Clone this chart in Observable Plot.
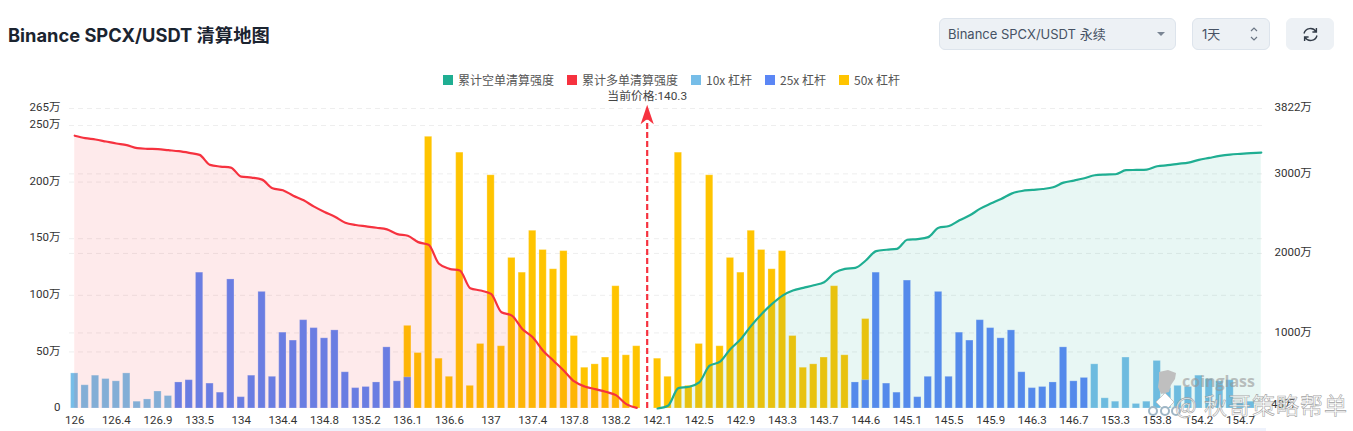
<!DOCTYPE html>
<html><head><meta charset="utf-8">
<script src="https://cdn.jsdelivr.net/npm/d3@7"></script>
<script src="https://cdn.jsdelivr.net/npm/@observablehq/plot@0.6"></script>
<style>
html,body{margin:0;padding:0;background:#fff;overflow:hidden}
body{width:1353px;height:431px;position:relative;font-family:"Noto Sans","Noto Sans CJK SC",sans-serif}
.title{position:absolute;left:8px;top:21px;font:700 18.3px/28px "Inter","Noto Sans CJK SC",sans-serif;color:#1b2430;white-space:nowrap}
.ctl{position:absolute;top:18px;height:32px;box-sizing:border-box;background:#edf1f5;border:1px solid #dde4ec;border-radius:6px;font:13px/30px "Inter","Noto Sans CJK SC",sans-serif;color:#465264;padding-left:8px;white-space:nowrap}
.legend{position:absolute;top:72px;left:0;height:16px;font:12px/16px "Noto Sans CJK SC",sans-serif;color:#555}
.legend span{position:absolute;top:0;white-space:nowrap}
.legend i{position:absolute;top:3px;width:10px;height:10px}
#chart{position:absolute;left:0;top:88px}
.strip{position:absolute;left:70px;top:428px;width:1196px;height:3px;background:#eef2fc}
.wm0{position:absolute;left:1146px;top:368px}
.wm1{position:absolute;left:1182px;top:371px;font:700 16px/20px "Open Sans",sans-serif;color:rgba(150,150,150,.6)}
.wm2{position:absolute;left:1175px;top:390px;font:23px/28px "Noto Sans CJK SC",sans-serif;color:rgba(255,255,255,.8);-webkit-text-stroke:.6px rgba(130,130,130,.75);letter-spacing:1px;white-space:nowrap}
</style></head><body>
<div class="title">Binance SPCX/USDT 清算地图</div>
<div class="ctl" style="left:939px;width:237px">Binance SPCX/USDT 永续<svg style="position:absolute;left:217px;top:13px" width="8" height="5"><path d="M0 0H8L4 4Z" fill="#7a8594"/></svg></div>
<div class="ctl" style="left:1192px;width:78px;padding-left:9px">1天<svg style="position:absolute;left:56px;top:7px" width="10" height="16"><path d="M2 5L5 2L8 5M2 11L5 14L8 11" fill="none" stroke="#6b7685" stroke-width="1.2"/></svg></div>
<div class="ctl" style="left:1286px;width:48px;border-color:#edf1f5"><svg style="position:absolute;left:15px;top:7px" width="17" height="17" viewBox="0 0 17 17"><path d="M2 7.5A6.6 6.6 0 0 1 14 5.6M15 9.5A6.6 6.6 0 0 1 3 11.4M14.4 2V6H10.4M2.6 15V11H6.6" fill="none" stroke="#333c48" stroke-width="1.4"/></svg></div>
<div class="legend" id="legend"></div>
<div id="chart"></div>
<div class="strip"></div>
<svg class="wm0" width="36" height="58" viewBox="0 0 36 58">
<path d="M13 4L22 2L30 5L29 11L25 17L23 24L15 26L12 19L13 12Z" fill="#bfbfbf"/>
<path d="M10 34L19 25L28 34L19 43Z" fill="#fff" stroke="#c9c9c9"/>
<circle cx="7" cy="43" r="4" fill="#fff" stroke="#9fb6c6" stroke-width="2"/><circle cx="19" cy="43" r="4" fill="#fff" stroke="#9fb6c6" stroke-width="2"/><circle cx="30" cy="43" r="4" fill="#fff" stroke="#9fb6c6" stroke-width="2"/>
</svg>
<div class="wm1">coinglass</div>
<div class="wm2">@ 秋哥策略帮单</div>
<script>
const tickLabels=["126","126.4","126.9","133.5","134","134.4","134.8","135.2","136.1","136.6","137","137.4","137.8","138.2","142.1","142.5","142.9","143.3","143.7","144.6","145.1","145.5","145.9","146.3","146.7","153.3","153.8","154.2","154.7"];
// values in 万, one per price slot; null = nothing
const lev10=[31,20.5,29,26,24,31,6,8,15,11];
const lev25Left=[23,25,120,22,14,114,10,29,103,28,67,60,78,71,62,69,32,18,19,23,54,24,27.5];
const lev50Left=[73,49,240,44,28,226,20,57,206,55,133,120,157,140,123,139,64,36,39,45,108,47,55];
const lev50Right=[44,28,226,20,57,206,55,133,120,157,140,123,139,64,36,39,45,108,47];
const lev25Right=[23,25,120,22,14,113,10,28,103,28,67,60,78,71,62,69,32,18,19,23,54,24,27];
const lev50Extra=[null,79];
const lev10Right=[39,9,6,45,4,6,42,18,20,19,29,26,24,25,5,6];
// cumulative intensities, read on the right axis (万)
const longCum=[3480,3449,3432,3407,3382,3361,3323,3315,3311,3298,3285,3264,3239,3113,3092,3079,2966,2953,2928,2819,2794,2726,2668,2588,2521,2462,2386,2357,2340,2323,2302,2243,2222,2142,2109,1869,1806,1785,1563,1533,1491,1260,1218,1050,945,777,651,525,390,327,294,260,218,105,58];
const shortCum=[50,84,306,323,378,588,638,798,924,1092,1239,1365,1470,1533,1567,1600,1638,1756,1806,1819,1911,2029,2046,2058,2172,2180,2205,2323,2344,2416,2479,2563,2626,2684,2752,2785,2798,2810,2832,2890,2916,2945,2983,2991,2995,3046,3050,3054,3096,3109,3126,3142,3176,3201,3226,3243,3252,3260,3268];
const leftTicks=[0,50,100,150,200,250,265];
const rightTicks=[1000,2000,3000,3822];
const rightBottomLabel="48万";
const currentPrice="当前价格:140.3";
const SLOTS=115, PRICE_SLOT=55, SHORT_START=56, LEV25_LEFT_START=10, LEV50_LEFT_START=32, LEV50_RIGHT_START=56, LEV25_RIGHT_START=75, LEV10_RIGHT_START=98;
const C={s:"#1fae92",l:"#f6323f",a:"#76bde8",b:"#5b86f5",c:"#ffc400"};

const legendItems=[["累计空单清算强度",C.s,443],["累计多单清算强度",C.l,567],["10x 杠杆",C.a,691],["25x 杠杆",C.b,765],["50x 杠杆",C.c,839]];
const lg=document.getElementById("legend");
for(const [t,c,x] of legendItems){lg.insertAdjacentHTML("beforeend",`<i style="left:${x}px;background:${c}"></i><span style="left:${x+15}px">${t}</span>`);}

const rows=(arr,start)=>arr.map((v,k)=>({i:start+k,v})).filter(d=>d.v!=null);
const toLeft=d3.scaleLinear([50,3822],[0,265]);
const slots=d3.range(SLOTS);
const bars=[
 ...rows(lev50Left,LEV50_LEFT_START).map(d=>({...d,c:C.c})),
 ...rows(lev50Right,LEV50_RIGHT_START).map(d=>({...d,c:C.c})),
 ...rows(lev50Extra,LEV25_RIGHT_START).map(d=>({...d,c:C.c})),
 ...rows(lev10,0).map(d=>({...d,c:C.a})),
 ...rows(lev10Right,LEV10_RIGHT_START).map(d=>({...d,c:C.a})),
 ...rows(lev25Left,LEV25_LEFT_START).map(d=>({...d,c:C.b})),
 ...rows(lev25Right,LEV25_RIGHT_START).map(d=>({...d,c:C.b}))
];
const longs=rows(longCum,0).map(d=>({i:d.i,y:toLeft(d.v)}));
const shorts=rows(shortCum,SHORT_START).map(d=>({i:d.i,y:toLeft(d.v)}));
const arrow={draw(ctx,size){const r=Math.sqrt(size);ctx.moveTo(0,-r);ctx.lineTo(r*.62,r*.85);ctx.lineTo(0,r*.35);ctx.lineTo(-r*.62,r*.85);ctx.closePath();}};
const font='Roboto,"Noto Sans CJK SC",sans-serif';
const plot=Plot.plot({
 width:1353,height:343,marginLeft:69,marginRight:87,marginTop:20,marginBottom:23,
 style:{fontFamily:font,fontSize:"12px",color:"#333",background:"transparent"},
 x:{type:"band",domain:slots,paddingInner:.3,paddingOuter:.15,label:null},
 y:{domain:[0,265],range:[320,20],label:null},
 marks:[
  Plot.ruleY([...leftTicks.slice(1),...rightTicks.map(toLeft)],{y:d=>d,stroke:"#eeeeee",strokeDasharray:"5 4",strokeWidth:1}),
  Plot.barY(bars,{x:"i",y1:0,y2:"v",fill:"c",stroke:"#fff",strokeOpacity:.25,strokeWidth:1}),
  Plot.areaY(longs,{x:"i",y:"y",fill:C.l,fillOpacity:.1,curve:"monotone-x"}),
  Plot.areaY(shorts,{x:"i",y:"y",fill:C.s,fillOpacity:.1,curve:"monotone-x"}),
  Plot.lineY(longs,{x:"i",y:"y",stroke:C.l,strokeWidth:2.2,curve:"monotone-x"}),
  Plot.lineY(shorts,{x:"i",y:"y",stroke:C.s,strokeWidth:2.2,curve:"monotone-x"}),
  Plot.ruleX([PRICE_SLOT],{x:d=>d,y1:0,y2:255,stroke:C.l,strokeWidth:2.2,strokeDasharray:"6 3"}),
  Plot.dot([PRICE_SLOT],{x:d=>d,y:[259],symbol:arrow,r:6,fill:C.l,stroke:"none"}),
  Plot.text([currentPrice],{x:[PRICE_SLOT],y:[265],dy:-12,text:d=>d,fontSize:11.8,fill:"#444"}),
  Plot.axisX({ticks:tickLabels.map((_,k)=>k*4),tickFormat:i=>tickLabels[i/4],tickSize:0,tickPadding:7,label:null,fontSize:11.5,fill:"#333"}),
  Plot.axisY({ticks:leftTicks,tickFormat:d=>d?d+"万":"0",tickSize:0,tickPadding:9,label:null,fontSize:11.5,fill:"#333",dy:-1}),
  Plot.axisY({anchor:"right",ticks:rightTicks.map(toLeft),tickFormat:d=>Math.round(toLeft.invert(d))+"万",tickSize:0,tickPadding:8,label:null,fontSize:11.5,fill:"#333",dy:-1}),
  Plot.text([rightBottomLabel],{frameAnchor:"bottom-right",y:[0],dx:29,dy:-1,textAnchor:"end",text:d=>d,fontSize:11.5,fill:"#333"})
 ]
});
document.getElementById("chart").appendChild(plot);
</script></body></html>
